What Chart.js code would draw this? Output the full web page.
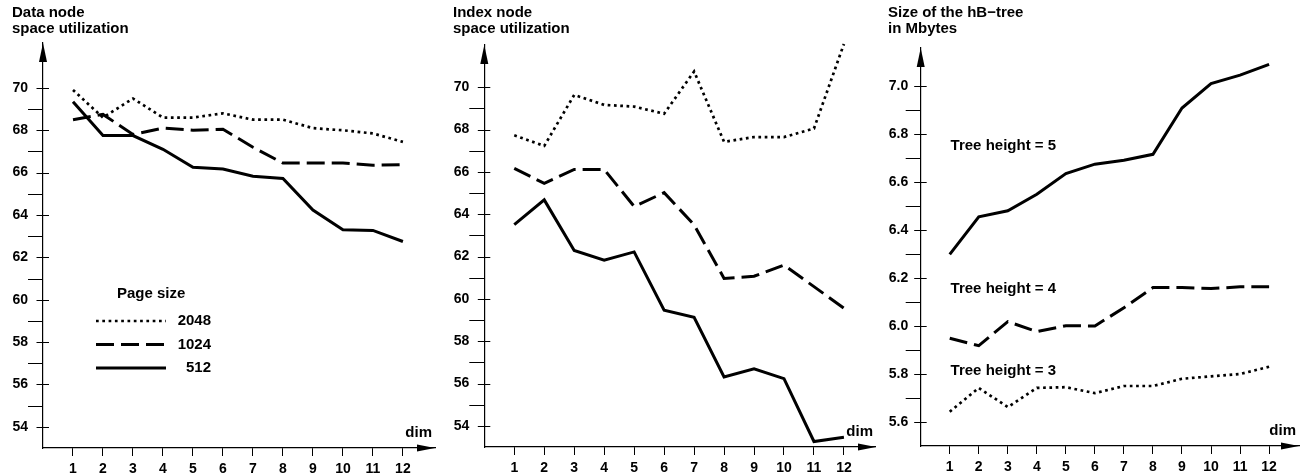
<!DOCTYPE html>
<html>
<head>
<meta charset="utf-8">
<script src="https://cdn.jsdelivr.net/npm/chart.js@4.4.1/dist/chart.umd.min.js"></script>
<style>
  body { margin: 0; background: #fff; }
  canvas { position: absolute; top: 0; }
</style>
</head>
<body>
<canvas id="dataChart" width="440" height="475" style="left:0px"></canvas>
<canvas id="indexChart" width="436" height="475" style="left:440px"></canvas>
<canvas id="sizeChart" width="433" height="475" style="left:876px"></canvas>
<script>
  // x values (dimension)
  const dims = [1, 2, 3, 4, 5, 6, 7, 8, 9, 10, 11, 12];

  // Data node space utilization, by page size
  const data2048 = [69.9, 68.6, 69.5, 68.6, 68.6, 68.8, 68.5, 68.5, 68.1, 68.0, 67.85, 67.45];
  const data1024 = [68.5, 68.75, 67.8, 68.1, 68.0, 68.05, 67.2, 66.45, 66.45, 66.45, 66.35, 66.38];
  const data512 = [69.35, 67.75, 67.75, 67.1, 66.25, 66.17, 65.83, 65.72, 64.23, 63.3, 63.27, 62.75];

  // Index node space utilization, by page size
  const index2048 = [67.73, 67.23, 69.64, 69.17, 69.09, 68.75, 70.75, 67.42, 67.65, 67.65, 68.05, 72.05];
  const index1024 = [66.17, 65.46, 66.12, 66.12, 64.37, 65.02, 63.5, 60.97, 61.07, 61.6, 60.58, 59.56];
  const index512 = [63.51, 64.68, 62.29, 61.83, 62.22, 59.47, 59.13, 56.31, 56.7, 56.23, 53.26, 53.46];

  // Size of the hB-tree in Mbytes, by tree height
  const height5 = [6.298, 6.455, 6.48, 6.549, 6.635, 6.674, 6.69, 6.715, 6.908, 7.01, 7.045, 7.09];
  const height4 = [5.949, 5.918, 6.018, 5.977, 6.001, 6.0, 6.076, 6.16, 6.16, 6.156, 6.163, 6.163];
  const height3 = [5.643, 5.742, 5.662, 5.742, 5.745, 5.72, 5.75, 5.75, 5.78, 5.79, 5.8, 5.83];

  // tick values
  const utilTicks = [54, 55, 56, 57, 58, 59, 60, 61, 62, 63, 64, 65, 66, 67, 68, 69, 70];
  const sizeTicks = [5.6, 5.7, 5.8, 5.9, 6.0, 6.1, 6.2, 6.3, 6.4, 6.5, 6.6, 6.7, 6.8, 6.9, 7.0];

  const FONT = "'Liberation Sans', Arial, Helvetica, sans-serif";
  const DOTTED = { borderDash: [2.7, 3.6], borderWidth: 2.7 };
  const DASHED = { borderDash: [18, 7], borderWidth: 3 };
  const SOLID = { borderDash: [], borderWidth: 3 };

  function series(label, values, style) {
    return Object.assign({
      label: label,
      data: dims.map((d, i) => ({ x: d, y: values[i] })),
      borderColor: "#000",
      borderCapStyle: "butt",
      fill: false,
      tension: 0,
      pointRadius: 0,
      clip: false,
    }, style);
  }

  // axes arrows, y ticks (major crosses, minor on the left), "dim", notes, legend
  const decorPlugin = {
    id: "decor",
    afterDraw(chart, args, opts) {
      const ctx = chart.ctx;
      const area = chart.chartArea;
      const xs = chart.scales.x;
      const ys = chart.scales.y;
      const ax = area.left, ay = area.bottom;
      ctx.save();
      ctx.fillStyle = "#000";
      ctx.strokeStyle = "#000";
      // arrow heads
      ctx.beginPath();
      ctx.moveTo(area.right, ay);
      ctx.lineTo(area.right - 18, ay - 3.5);
      ctx.lineTo(area.right - 18, ay + 3.5);
      ctx.closePath();
      ctx.fill();
      ctx.beginPath();
      ctx.moveTo(ax, area.top);
      ctx.lineTo(ax - 4, area.top + 19);
      ctx.lineTo(ax + 4, area.top + 19);
      ctx.closePath();
      ctx.fill();
      // y tick marks
      ctx.lineWidth = 1;
      ys.ticks.forEach((t) => {
        const p = Math.round(ys.getPixelForValue(t.value)) + 0.5;
        ctx.beginPath();
        if (t.label !== "") {
          ctx.moveTo(ax - 6.5, p);
          ctx.lineTo(ax + 6, p);
        } else {
          ctx.moveTo(ax - 15, p);
          ctx.lineTo(ax, p);
        }
        ctx.stroke();
      });
      // "dim" label
      ctx.font = "bold 15px " + FONT;
      ctx.textBaseline = "middle";
      ctx.textAlign = "right";
      ctx.fillText("dim", area.right - 3, ay - 15);
      // notes placed in data coordinates
      ctx.textAlign = "left";
      (opts.notes || []).forEach((n) => {
        ctx.fillText(n.text, xs.getPixelForValue(n.x), ys.getPixelForValue(n.y));
      });
      // legend
      if (opts.legend) {
        const lg = opts.legend;
        ctx.fillText(lg.title, ax + 74, ay - 154);
        chart.data.datasets.forEach((ds, i) => {
          const y = ay - 127 + i * 23.5;
          ctx.beginPath();
          ctx.lineWidth = ds.borderWidth;
          ctx.lineCap = "butt";
          ctx.setLineDash(ds.borderDash);
          ctx.moveTo(ax + 53, y);
          ctx.lineTo(ax + 123, y);
          ctx.stroke();
          ctx.setLineDash([]);
          ctx.textAlign = "right";
          ctx.fillText(ds.label, ax + 168, y);
        });
      }
      ctx.restore();
    },
  };

  function makePanel(id, cfg) {
    return new Chart(document.getElementById(id).getContext("2d"), {
      type: "line",
      data: { datasets: cfg.datasets },
      options: {
        responsive: false,
        animation: false,
        events: [],
        layout: { padding: { left: cfg.padLeft, right: cfg.padRight, top: 0, bottom: 0 } },
        plugins: {
          legend: { display: false },
          tooltip: { enabled: false },
          title: {
            display: true,
            text: cfg.title,
            align: "start",
            color: "#000",
            font: { family: FONT, size: 15, weight: "bold", lineHeight: 16 / 15 },
            padding: { top: 5, bottom: cfg.titleGap },
          },
          decor: { notes: cfg.notes, legend: cfg.legend },
        },
        scales: {
          x: {
            type: "linear",
            min: 0,
            max: cfg.xMax,
            afterBuildTicks: (s) => { s.ticks = dims.map((v) => ({ value: v })); },
            afterFit: (s) => { s.height = cfg.xAxisHeight; },
            grid: { display: true, drawOnChartArea: false, drawTicks: true, tickLength: 8, color: "#000", lineWidth: 1 },
            border: { display: true, color: "#000", width: 1.2 },
            ticks: { color: "#000", padding: 5, maxRotation: 0, autoSkip: false, font: { family: FONT, size: 14, weight: "bold" } },
          },
          y: {
            type: "linear",
            min: cfg.yMin,
            max: cfg.yMax,
            afterBuildTicks: (s) => { s.ticks = cfg.yTicks.map((v) => ({ value: v })); },
            afterFit: (s) => { s.width = cfg.yAxisWidth; },
            grid: { display: false, drawTicks: false },
            border: { display: true, color: "#000", width: 1.2 },
            ticks: {
              color: "#000",
              padding: cfg.yLabelPad,
              autoSkip: false,
              font: { family: FONT, size: 14, weight: "bold" },
              callback: cfg.yLabel,
            },
          },
        },
      },
      plugins: [decorPlugin],
    });
  }

  const utilLabel = (v) => (v % 2 === 0 ? String(v) : "");
  const sizeLabel = (v) => (Math.round(v * 10) % 2 === 0 ? v.toFixed(1) : "");

  // Data node space utilization
  makePanel("dataChart", {
    title: ["Data node", "space utilization"],
    datasets: [
      series("2048", data2048, DOTTED),
      series("1024", data1024, DASHED),
      series("512", data512, SOLID),
    ],
    padLeft: 12, padRight: 5, yAxisWidth: 31, xAxisHeight: 27, titleGap: 6,
    xMax: 13.07, yMin: 53, yMax: 72.12, yTicks: utilTicks, yLabel: utilLabel, yLabelPad: 15,
    legend: { title: "Page size" },
  });

  // Index node space utilization
  makePanel("indexChart", {
    title: ["Index node", "space utilization"],
    datasets: [
      series("2048", index2048, DOTTED),
      series("1024", index1024, DASHED),
      series("512", index512, SOLID),
    ],
    padLeft: 13, padRight: 0, yAxisWidth: 31.3, xAxisHeight: 28, titleGap: 8,
    xMax: 13.07, yMin: 53, yMax: 72.0, yTicks: utilTicks, yLabel: utilLabel, yLabelPad: 15,
  });

  // Size of the hB-tree
  makePanel("sizeChart", {
    title: ["Size of the hB\u2212tree", "in Mbytes"],
    datasets: [
      series("Tree height = 5", height5, SOLID),
      series("Tree height = 4", height4, DASHED),
      series("Tree height = 3", height3, DOTTED),
    ],
    padLeft: 12, padRight: 10, yAxisWidth: 32.7, xAxisHeight: 29, titleGap: 11,
    xMax: 13.03, yMin: 5.5, yMax: 7.158, yTicks: sizeTicks, yLabel: sizeLabel, yLabelPad: 12.5,
    notes: [
      { text: "Tree height = 5", x: 1.03, y: 6.75 },
      { text: "Tree height = 4", x: 1.03, y: 6.154 },
      { text: "Tree height = 3", x: 1.03, y: 5.8125 },
    ],
  });
</script>
</body>
</html>
